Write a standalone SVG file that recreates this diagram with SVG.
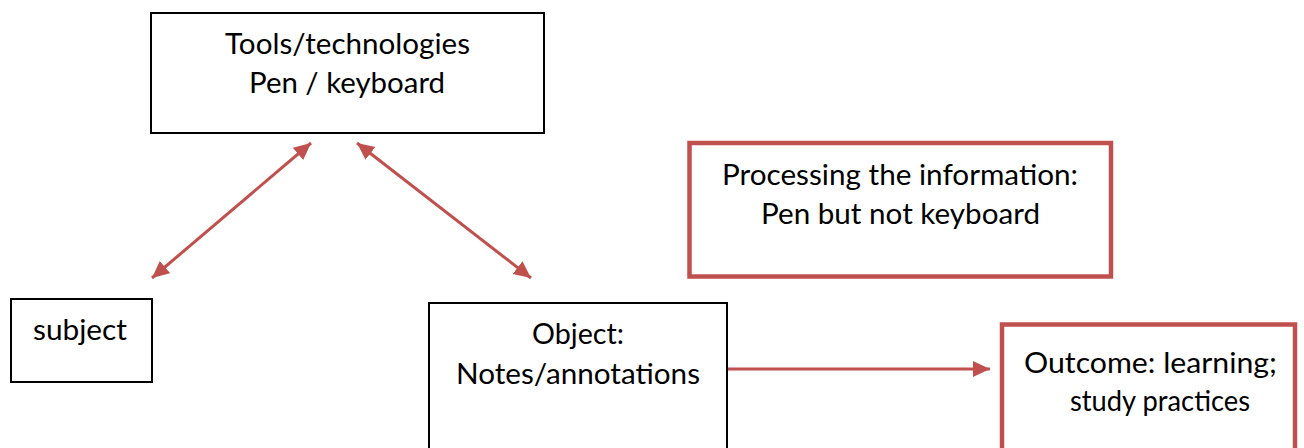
<svg xmlns="http://www.w3.org/2000/svg" width="1304" height="448" viewBox="0 0 1304 448">
  <style>
    .box { fill: #ffffff; stroke: #000000; stroke-width: 2; }
    .hl { fill: #ffffff; stroke: #C0504D; stroke-width: 4.5; }
    .lbl { font-family: Lato, "Open Sans", "Liberation Sans", sans-serif; font-size: 28.5px; fill: #000000; }
    .link { stroke: #C0504D; stroke-width: 3; fill: none; }
  </style>
  <defs>
    <marker id="head" markerUnits="userSpaceOnUse" markerWidth="18" markerHeight="18" viewBox="0 0 18 18" refX="17" refY="8" orient="auto-start-reverse">
      <path d="M0,0 L17,8 L0,16 z" fill="#C0504D"/>
    </marker>
  </defs>

  <rect width="1304" height="448" fill="#ffffff"/>

  <g id="connectors">
    <line class="link" x1="311" y1="143" x2="152" y2="278" marker-start="url(#head)" marker-end="url(#head)"/>
    <line class="link" x1="357" y1="143" x2="531" y2="278" marker-start="url(#head)" marker-end="url(#head)"/>
    <line class="link" x1="727" y1="369" x2="990" y2="369" marker-end="url(#head)"/>
  </g>

  <g id="tools">
    <rect class="box" x="151" y="13" width="393" height="120"/>
    <text class="lbl" x="225" y="54" textLength="245" lengthAdjust="spacingAndGlyphs">Tools/technologies</text>
    <text class="lbl" x="249" y="93" textLength="196" lengthAdjust="spacingAndGlyphs">Pen / keyboard</text>
  </g>

  <g id="subject">
    <rect class="box" x="11" y="299" width="141" height="83"/>
    <text class="lbl" x="33" y="340" textLength="94" lengthAdjust="spacingAndGlyphs">subject</text>
  </g>

  <g id="object">
    <rect class="box" x="429" y="303" width="298" height="160"/>
    <text class="lbl" x="532" y="344" textLength="92" lengthAdjust="spacingAndGlyphs">Object:</text>
    <text class="lbl" x="456" y="384" textLength="244" lengthAdjust="spacingAndGlyphs">Notes/annotations</text>
  </g>

  <g id="processing">
    <rect class="hl" x="689.5" y="143" width="421.5" height="133.5"/>
    <text class="lbl" x="722" y="185" textLength="356" lengthAdjust="spacingAndGlyphs">Processing the information:</text>
    <text class="lbl" x="761" y="224" textLength="279" lengthAdjust="spacingAndGlyphs">Pen but not keyboard</text>
  </g>

  <g id="outcome">
    <rect class="hl" x="1002" y="324.5" width="293" height="140"/>
    <text class="lbl" x="1024" y="373" textLength="253" lengthAdjust="spacingAndGlyphs">Outcome: learning;</text>
    <text class="lbl" x="1070" y="411" textLength="180" lengthAdjust="spacingAndGlyphs">study practices</text>
  </g>
</svg>
